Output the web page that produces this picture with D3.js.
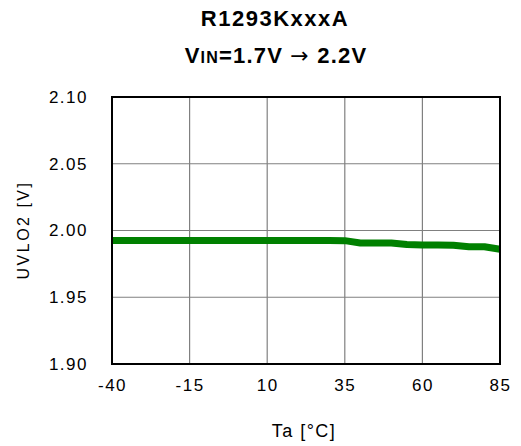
<!DOCTYPE html>
<html>
<head>
<meta charset="utf-8">
<script src="https://cdn.jsdelivr.net/npm/d3@7"></script>
<style>
html,body{margin:0;padding:0;background:#fff;}
svg{display:block;font-family:"Liberation Sans",Arial,sans-serif;}
</style>
</head>
<body>
<svg id="chart" width="521" height="446"></svg>
<script>
const temps = [-40,-30,-20,-10,0,10,20,30,35,40,45,50,55,60,65,70,75,80,85];
const uvlo2 = [1.9925,1.9925,1.9925,1.9925,1.9925,1.9925,1.9925,1.9925,1.9924,1.9907,1.9906,1.9906,1.9895,1.9891,1.9891,1.9890,1.9879,1.9878,1.9859];
const xTicks = [-40,-15,10,35,60,85];
const yTicks = [1.90,1.95,2.00,2.05,2.10];
const titleLine1 = "R1293KxxxA";
const xLabel = "Ta [°C]";
const yLabel = "UVLO2 [V]";

const svg = d3.select("#chart");
const L = 112, R = 500, T = 97, B = 364;
const x = d3.scaleLinear().domain([-40,85]).range([L,R]);
const y = d3.scaleLinear().domain([1.90,2.10]).range([B,T]);

// gridlines
svg.append("g").selectAll("line").data(xTicks.slice(1,-1)).join("line")
  .attr("x1",d=>x(d)).attr("x2",d=>x(d)).attr("y1",T).attr("y2",B)
  .attr("stroke","#808080").attr("stroke-width",1.2);
svg.append("g").selectAll("line").data(yTicks.slice(1,-1)).join("line")
  .attr("x1",L).attr("x2",R).attr("y1",d=>y(d)).attr("y2",d=>y(d))
  .attr("stroke","#808080").attr("stroke-width",1.2);

// data line
const line = d3.line().x((d,i)=>x(temps[i])).y(d=>y(d));
svg.append("path").datum(uvlo2).attr("d",line)
  .attr("fill","none").attr("stroke","#008000").attr("stroke-width",7)
  .attr("stroke-linejoin","round");

// frame
svg.append("rect").attr("x",L).attr("y",T).attr("width",R-L).attr("height",B-T)
  .attr("fill","none").attr("stroke","#000").attr("stroke-width",2);

// axes labels
const yAxis = d3.axisLeft(y).tickValues(yTicks).tickFormat(d3.format(".2f")).tickSize(0).tickPadding(24);
const gy = svg.append("g").attr("transform",`translate(${L},0)`).call(yAxis);
gy.select(".domain").remove();
gy.selectAll("text").attr("font-size",17).attr("letter-spacing",1.5).attr("fill","#000")
  .attr("font-family","Liberation Sans, Arial, sans-serif");

const xAxis = d3.axisBottom(x).tickValues(xTicks).tickFormat(d=>String(d)).tickSize(0).tickPadding(15);
const gx = svg.append("g").attr("transform",`translate(0,${B})`).call(xAxis);
gx.select(".domain").remove();
gx.selectAll("text").attr("font-size",17).attr("letter-spacing",1.5).attr("fill","#000")
  .attr("font-family","Liberation Sans, Arial, sans-serif");

svg.append("text").attr("x",304).attr("y",437).attr("text-anchor","middle")
  .attr("font-size",18).attr("letter-spacing",1.5).text(xLabel);
svg.append("text").attr("transform","translate(29,230) rotate(-90)").attr("text-anchor","middle")
  .attr("font-size",16).attr("letter-spacing",2.5).text(yLabel);

// title
svg.append("text").attr("x",275).attr("y",26).attr("text-anchor","middle")
  .attr("font-size",22).attr("font-weight","bold").attr("letter-spacing",1.5).text(titleLine1);
const t2 = svg.append("text").attr("x",276).attr("y",63).attr("text-anchor","middle")
  .attr("font-size",22).attr("font-weight","bold").attr("letter-spacing",1.2);
t2.append("tspan").text("V");
t2.append("tspan").attr("font-size",16).text("IN");
t2.append("tspan").text("=1.7V ");
t2.append("tspan").attr("font-family","DejaVu Sans").attr("font-weight","normal").text("→");
t2.append("tspan").text(" 2.2V");
</script>
</body>
</html>
